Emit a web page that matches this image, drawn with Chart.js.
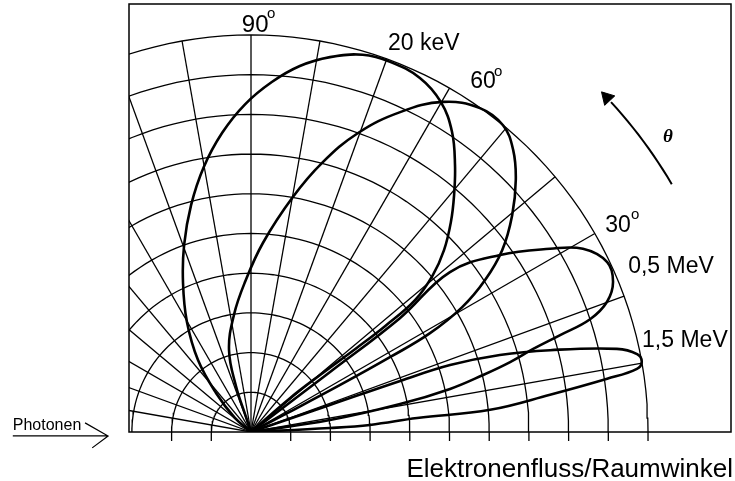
<!DOCTYPE html>
<html>
<head>
<meta charset="utf-8">
<script src="https://cdn.jsdelivr.net/npm/chart.js@4"></script>
<style>
  body { margin: 0; background: #fff; }
  #wrap { width: 735px; height: 481px; }
</style>
</head>
<body>
<div id="wrap"><canvas id="chart"></canvas></div>
<script>
// polar readings: angle in degrees, radius in ring units (outer ring = 10)
const lobe20keV_theta = [41, 41, 39.5, 38.5, 38.3, 38.8, 40.8, 43.3, 46.4, 49.4, 52.6, 56.2, 60.1, 64.5, 69.4, 73.5, 78.1, 82.4, 86.6, 91.0, 95.5, 100.1, 104.8, 109.7, 114.5, 120.2, 126.4, 131.9, 138.8, 139];
const lobe20keV_r     = [0, 1.3, 2.3, 3.4, 4.3, 5.30, 6.05, 6.68, 7.30, 7.86, 8.46, 9.10, 9.59, 9.88, 9.96, 9.91, 9.65, 9.30, 8.83, 8.26, 7.57, 6.78, 5.91, 5.00, 4.13, 3.21, 2.25, 1.32, 0.54, 0];

const lobe2_theta = [27.5, 27.5, 27.8, 28.3, 28.9, 30.6, 33.0, 35.9, 39.7, 43.6, 47.1, 50.6, 54.75, 59.8, 65.0, 70.3, 75.2, 79.9, 86.4, 92.3, 98.3, 105.0, 108.1, 108.4, 108.4];
const lobe2_r     = [0, 1.0, 2.5, 4.0, 5.15, 6.18, 7.03, 7.81, 8.55, 9.21, 9.70, 10.0, 9.99, 9.62, 8.89, 8.00, 7.01, 6.01, 4.77, 3.78, 2.98, 2.14, 1.22, 0.40, 0];

const lobe05MeV_theta = [8, 8.6, 10.6, 12.2, 13.8, 15.1, 16.4, 17.4, 18.4, 20.1, 22.5, 25.5, 28.9, 31.5, 35.4, 38.8, 37.4, 37.2, 37.2];
const lobe05MeV_r     = [0, 2.01, 3.82, 5.13, 6.02, 6.76, 7.41, 8.16, 9.00, 9.55, 9.87, 9.94, 9.55, 8.83, 7.70, 6.43, 4.72, 2.5, 0];

const lobe15MeV_theta = [2.9, 2.9, 3.4, 4.8, 5.3, 7.1, 8.5, 9.3, 10.2, 11.4, 12.8, 15.3, 17.2, 18.6, 18.9, 18.9, 18.9];
const lobe15MeV_r     = [0, 1.99, 3.00, 4.20, 6.05, 7.59, 9.07, 9.85, 10.0, 9.92, 9.45, 7.81, 6.56, 5.29, 3.97, 2.10, 0];

const ringRadii = [1, 2, 3, 4, 5, 6, 7, 8, 9, 10];
const spokeAngles = [10, 20, 30, 40, 50, 60, 70, 80, 90, 100, 110, 120, 130, 140, 150, 160, 170];
const axisTicks = [-2, -1, 1, 2, 3, 4, 5, 6, 7, 8, 9, 10];

// theta arrow (arc around the origin)
const arrowRadius = 12.3;
const arrowFrom = 30.5;
const arrowTo = 43.2;

const toXY = (t, r) => ({ x: r * Math.cos(t * Math.PI / 180), y: r * Math.sin(t * Math.PI / 180) });

const datasets = [];

ringRadii.forEach(r => {
  const pts = [];
  for (let t = 0; t <= 180; t += 2) pts.push(toXY(t, r));
  datasets.push({ data: pts, borderColor: '#000', borderWidth: 1.3, pointRadius: 0, showLine: true });
});

spokeAngles.forEach(a => {
  datasets.push({ data: [toXY(a, 0), toXY(a, 10)], borderColor: '#000', borderWidth: 1.3, pointRadius: 0, showLine: true });
});

const lobes = [
  [lobe20keV_theta, lobe20keV_r],
  [lobe2_theta, lobe2_r],
  [lobe05MeV_theta, lobe05MeV_r],
  [lobe15MeV_theta, lobe15MeV_r]
];
lobes.forEach(([th, rr]) => {
  datasets.push({
    data: th.map((t, i) => toXY(t, rr[i])),
    borderColor: '#000', borderWidth: 2.6, pointRadius: 0, showLine: true, tension: 0.4
  });
});

const arcPts = [];
for (let t = arrowFrom; t <= arrowTo; t += 1) arcPts.push(toXY(t, arrowRadius));
datasets.push({ data: arcPts, borderColor: '#000', borderWidth: 2, pointRadius: 0, showLine: true });
datasets.push({
  data: [toXY(arrowTo, arrowRadius)], pointStyle: 'triangle', pointRadius: 8,
  rotation: -arrowTo, backgroundColor: '#000', borderColor: '#000', borderWidth: 1, showLine: false
});

// text annotations in data units
const notes = [
  { text: '90', x: -0.23, y: 10.08, font: '24px "Liberation Sans"' },
  { text: 'o', x: 0.40, y: 10.43, font: '15px "Liberation Sans"' },
  { text: '20 keV', x: 3.45, y: 9.62, font: '23px "Liberation Sans"' },
  { text: '60', x: 5.52, y: 8.66, font: '23px "Liberation Sans"' },
  { text: 'o', x: 6.12, y: 8.97, font: '15px "Liberation Sans"' },
  { text: '30', x: 8.92, y: 5.04, font: '23px "Liberation Sans"' },
  { text: 'o', x: 9.57, y: 5.37, font: '15px "Liberation Sans"' },
  { text: '0,5 MeV', x: 9.50, y: 4.01, font: '23px "Liberation Sans"' },
  { text: '1,5 MeV', x: 9.85, y: 2.14, font: '23px "Liberation Sans"' },
  { text: 'θ', x: 10.38, y: 7.30, font: 'italic bold 19px "Liberation Serif"' },
  { text: 'Photonen', x: -6.0, y: 0.05, font: '16px "Liberation Sans"' },
  { text: 'Elektronenfluss/Raumwinkel', x: 12.14, y: -1.13, font: '26px "Liberation Sans"', align: 'right' }
];

const decor = {
  id: 'decor',
  afterDraw(chart) {
    const { ctx, chartArea: a, scales: { x, y } } = chart;
    const px = v => x.getPixelForValue(v), py = v => y.getPixelForValue(v);
    ctx.save();
    ctx.strokeStyle = '#000';
    ctx.lineWidth = 1.5;
    ctx.strokeRect(a.left, a.top, a.right - a.left, a.bottom - a.top);

    // tick marks below the base line
    ctx.lineWidth = 1.3;
    ctx.beginPath();
    axisTicks.forEach(v => {
      ctx.moveTo(px(v), a.bottom);
      ctx.lineTo(px(v), a.bottom + 9);
    });
    ctx.stroke();

    ctx.fillStyle = '#000';
    ctx.textBaseline = 'alphabetic';
    notes.forEach(n => {
      ctx.font = n.font;
      ctx.textAlign = n.align || 'left';
      ctx.fillText(n.text, px(n.x), py(n.y));
    });

    // Photonen arrow
    ctx.lineWidth = 1.2;
    ctx.beginPath();
    ctx.moveTo(px(-6.0), py(-0.1));
    ctx.lineTo(px(-3.6), py(-0.1));
    ctx.moveTo(px(-4.18), py(0.23));
    ctx.lineTo(px(-3.6), py(-0.1));
    ctx.lineTo(px(-4.0), py(-0.40));
    ctx.stroke();
    ctx.restore();
  }
};

new Chart(document.getElementById('chart'), {
  type: 'scatter',
  data: { datasets: datasets },
  options: {
    responsive: true,
    maintainAspectRatio: false,
    animation: false,
    devicePixelRatio: 1,
    layout: { autoPadding: false, padding: { left: 129, right: 4, top: 4, bottom: 49 } },
    plugins: { legend: { display: false }, tooltip: { enabled: false } },
    scales: {
      x: { type: 'linear', min: -3.073, max: 12.09, display: false },
      y: { type: 'linear', min: 0, max: 10.78, display: false }
    }
  },
  plugins: [decor]
});
</script>
</body>
</html>
